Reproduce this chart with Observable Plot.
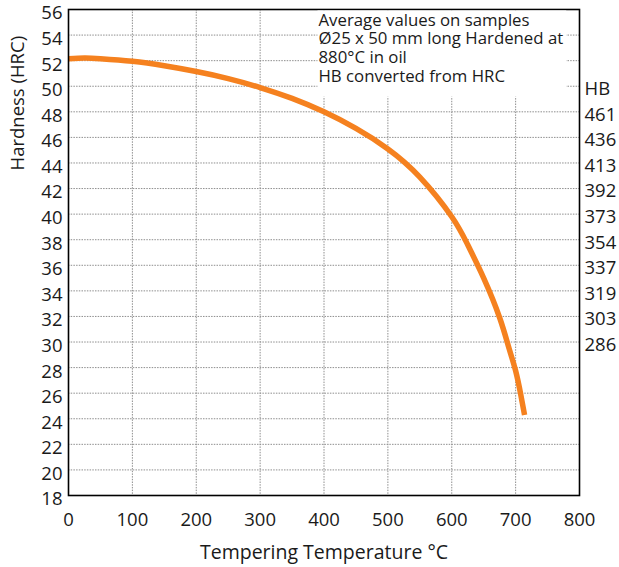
<!DOCTYPE html>
<html>
<head>
<meta charset="utf-8">
<script src="https://cdn.jsdelivr.net/npm/d3@7"></script>
<script src="https://cdn.jsdelivr.net/npm/@observablehq/plot@0.6"></script>
<style>
  html, body { margin: 0; padding: 0; background: #fff; }
  #chart svg { display: block; }
</style>
</head>
<body>
<div id="chart"></div>
<script>
// Tempering curve
const temps = [0, 25, 50, 100, 150, 200, 250, 300, 350, 400, 450, 500, 550, 600, 625, 650, 675, 690, 700, 708, 714];
const hrc   = [52.15, 52.2, 52.15, 51.95, 51.6, 51.15, 50.6, 49.9, 49.05, 48.0, 46.7, 45.1, 42.9, 39.8, 37.6, 35.0, 31.9, 29.45, 27.75, 25.9, 24.3];

// Axis ticks
const xTicks = [0, 100, 200, 300, 400, 500, 600, 700, 800];
const yTicks = [18, 20, 22, 24, 26, 28, 30, 32, 34, 36, 38, 40, 42, 44, 46, 48, 50, 52, 54, 56];

// Right-hand HB conversion labels
const hbHrc    = [50, 48, 46, 44, 42, 40, 38, 36, 34, 32, 30];
const hbLabels = ["HB", "461", "436", "413", "392", "373", "354", "337", "319", "303", "286"];

// Texts
const xTitle = "Tempering Temperature °C";
const yTitle = "Hardness (HRC)";
const noteLines = ["Average values on samples", "Ø25 x 50 mm long Hardened at", "880°C in oil", "HB converted from HRC"];

const curve = temps.map((t, i) => ({t, h: hrc[i]}));
const FONT = "'Open Sans', 'Noto Sans', sans-serif";
const INK = "#1a1a1a";
const GRID = {stroke: "#8e8e8e", strokeOpacity: 1, strokeWidth: 1, strokeDasharray: "1.5,1.2"};

const chart = Plot.plot({
  width: 619,
  height: 567,
  marginLeft: 68,
  marginRight: 40,
  marginTop: 9,
  marginBottom: 72,
  style: {fontFamily: FONT, fontSize: "18.5px", color: INK, background: "#fff"},
  x: {domain: [0, 800]},
  y: {domain: [18, 56]},
  marks: [
    Plot.gridX(xTicks, GRID),
    Plot.gridY(yTicks, GRID),
    Plot.line(curve, {x: "t", y: "h", stroke: "#f5811f", strokeWidth: 5.5, curve: "natural", strokeLinecap: "butt"}),
    Plot.frame({stroke: "#000", strokeWidth: 1.6}),
    Plot.axisX(xTicks, {anchor: "bottom", tickSize: 0, tickPadding: 17, label: null, fontSize: 18.5, fill: INK}),
    Plot.axisY(yTicks, {anchor: "left", tickSize: 0, tickPadding: 6, label: null, fontSize: 18.5, fill: INK, dy: 4}),
    Plot.axisY(hbHrc, {anchor: "right", tickSize: 0, tickPadding: 5, label: null, fontSize: 18.5, fill: INK, dy: 3,
      tickFormat: (d) => hbLabels[hbHrc.indexOf(d)]}),
    Plot.text([xTitle], {frameAnchor: "bottom", dy: 57, fontSize: 19.5, fill: INK, lineAnchor: "middle"}),
    Plot.text([yTitle], {frameAnchor: "left", rotate: -90, dx: -50, dy: -82, fontSize: 18.5, fill: INK, lineAnchor: "middle"}),
    Plot.text([noteLines.join("\n")], {frameAnchor: "top-left", textAnchor: "start", lineAnchor: "top",
      dx: 250, dy: 3, fontSize: 16.8, lineHeight: 1.11, fill: INK, ariaDescription: "note"})
  ]
});

document.getElementById("chart").appendChild(chart);

// white backing box behind the note, sized from its text
const noteText = Array.from(chart.querySelectorAll("text")).find(t => t.textContent.includes("Average values"));
if (noteText) {
  const bb = noteText.getBBox();
  const rect = document.createElementNS("http://www.w3.org/2000/svg", "rect");
  const tf = noteText.getAttribute("transform");
  if (tf) rect.setAttribute("transform", tf);
  rect.setAttribute("x", bb.x - 1);
  rect.setAttribute("y", -2);
  rect.setAttribute("width", bb.width + 4);
  rect.setAttribute("height", bb.y + bb.height + 10 + 2);
  rect.setAttribute("fill", "#fff");
  noteText.parentNode.insertBefore(rect, noteText);
}
</script>
</body>
</html>
